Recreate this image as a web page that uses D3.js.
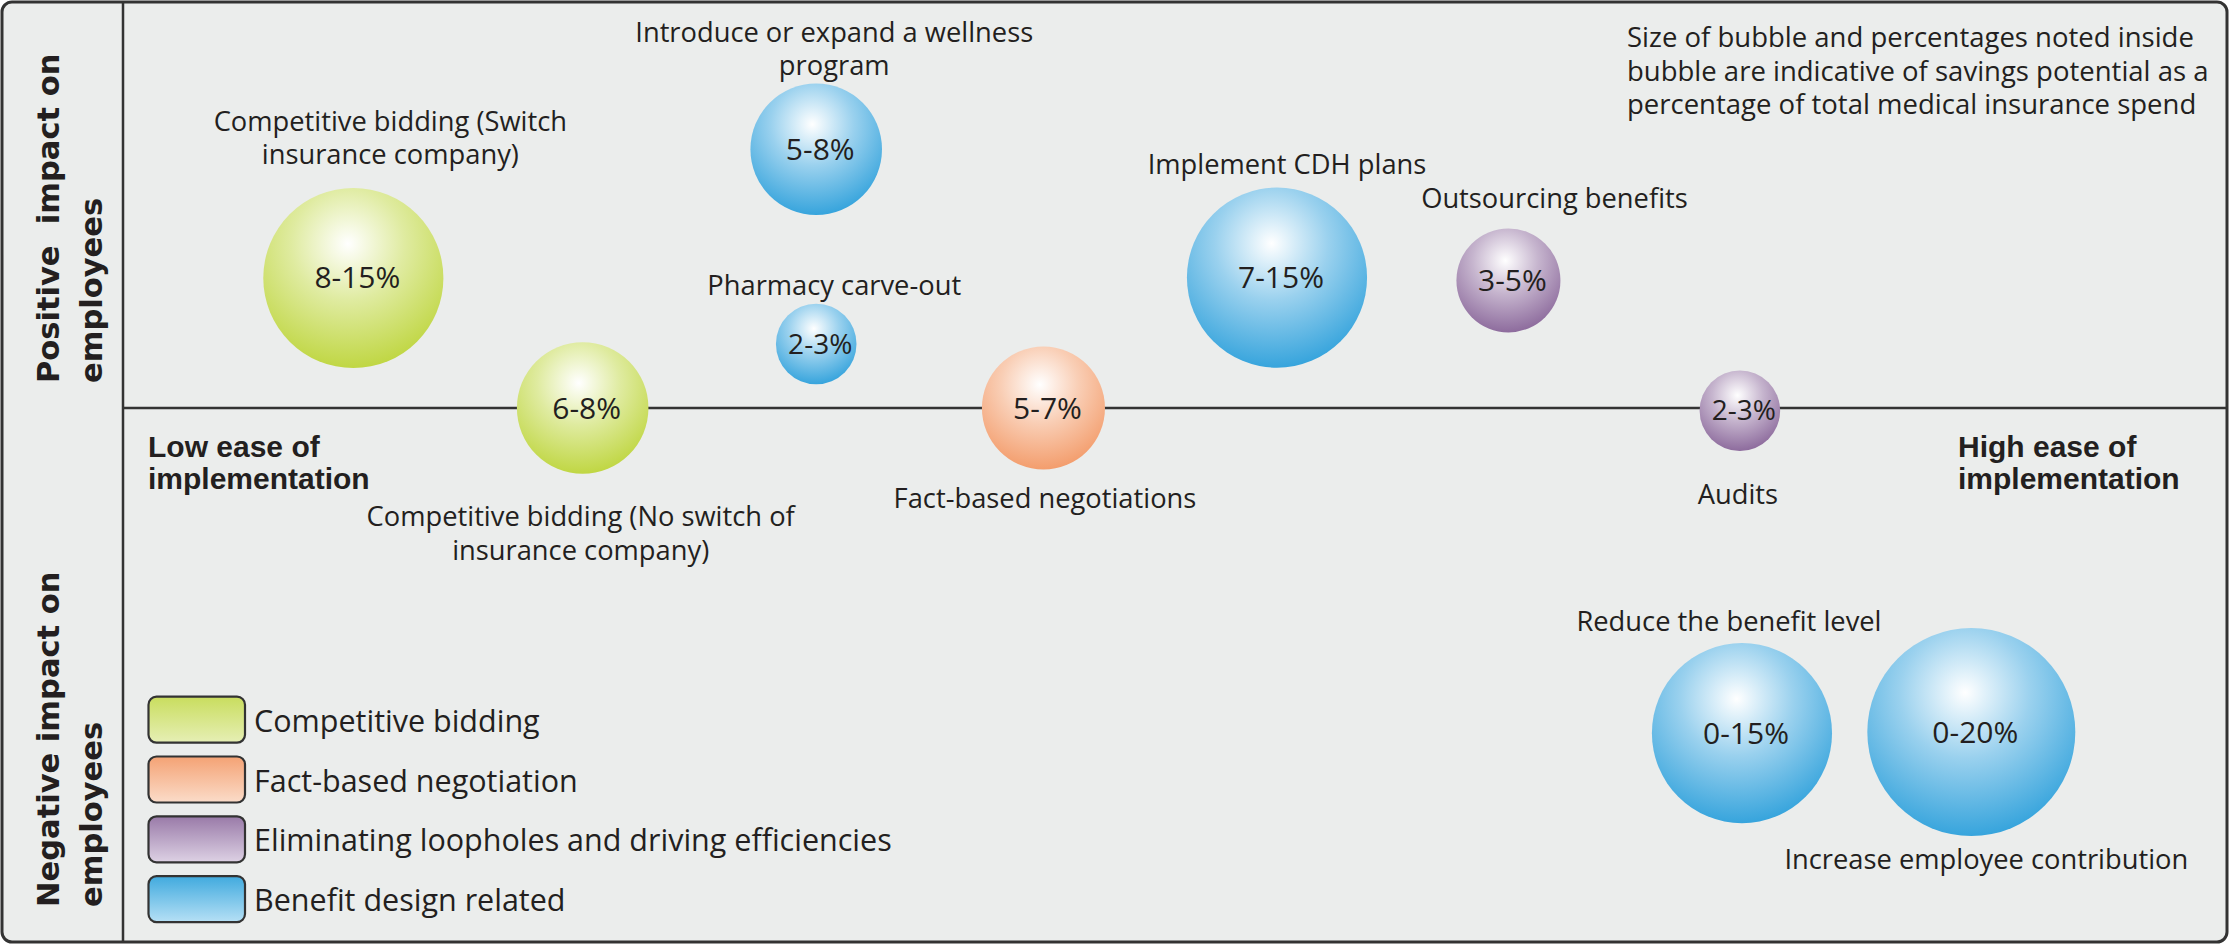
<!DOCTYPE html>
<html>
<head>
<meta charset="utf-8">
<script src="https://cdn.jsdelivr.net/npm/d3@7"></script>
<style>
  body { margin: 0; background: #ffffff; }
  text { font-family: "Open Sans", sans-serif; fill: #231f20; }
</style>
</head>
<body>
<div id="chart"></div>
<script>
// initiatives, in drawing order
const initiativeLabels = [
  "Competitive bidding (Switch\ninsurance company)",
  "Competitive bidding (No switch of\ninsurance company)",
  "Introduce or expand a wellness\nprogram",
  "Pharmacy carve-out",
  "Fact-based negotiations",
  "Implement CDH plans",
  "Outsourcing benefits",
  "Audits",
  "Reduce the benefit level",
  "Increase employee contribution"
];
const initiativeCategory = [0, 0, 3, 3, 1, 3, 2, 2, 3, 3];
// ease of implementation 0 (low) .. 100 (high)
const ease = [10.9, 21.8, 32.9, 32.9, 43.7, 54.8, 65.8, 76.8, 76.9, 87.8];
// impact on employees -100 (negative) .. 100 (positive)
const impact = [32.1, 0, 63.9, 15.8, 0, 32.2, 31.5, -0.5, -61, -60.8];
// savings potential, % of total medical insurance spend
const savingsLow = [8, 6, 5, 2, 5, 7, 3, 2, 0, 0];
const savingsHigh = [15, 8, 8, 3, 7, 15, 5, 3, 15, 20];

const categories = [
  "Competitive bidding",
  "Fact-based negotiation",
  "Eliminating loopholes and driving efficiencies",
  "Benefit design related"
];
const categoryColors = ["#bfd641", "#f39c6b", "#8c6a9c", "#34a3dc"];
const legendTop = ["#c9dd5e", "#f4a274", "#997aa8", "#40aade"];
const legendBottom = ["#e6efb5", "#fbdcc9", "#ddd1e4", "#b6e0f5"];

const noteLines = [
  "Size of bubble and percentages noted inside",
  "bubble are indicative of savings potential as a",
  "percentage of total medical insurance spend"
];

const width = 2232, height = 944;
const frame = {x: 2, y: 2, w: 2225, h: 940};
const divX = 123, midY = 408;

const svg = d3.select("#chart").append("svg")
  .attr("width", width)
  .attr("height", height);

const defs = svg.append("defs");
categoryColors.forEach((c, i) => {
  const rg = defs.append("radialGradient")
    .attr("id", "bub" + i)
    .attr("cx", 0.47).attr("cy", 0.31)
    .attr("fx", 0.47).attr("fy", 0.31)
    .attr("r", 0.7);
  rg.append("stop").attr("offset", 0).attr("stop-color", "#ffffff");
  rg.append("stop").attr("offset", 0.45).attr("stop-color", d3.interpolateRgb("#ffffff", c)(0.5));
  rg.append("stop").attr("offset", 1).attr("stop-color", c);

  const lg = defs.append("linearGradient")
    .attr("id", "leg" + i)
    .attr("x1", 0).attr("y1", 0).attr("x2", 0).attr("y2", 1);
  lg.append("stop").attr("offset", 0).attr("stop-color", legendTop[i]);
  lg.append("stop").attr("offset", 1).attr("stop-color", legendBottom[i]);
});

// frame
svg.append("rect")
  .attr("x", frame.x).attr("y", frame.y)
  .attr("width", frame.w).attr("height", frame.h)
  .attr("rx", 10)
  .attr("fill", "#ebedec")
  .attr("stroke", "#333333")
  .attr("stroke-width", 3);

svg.append("line")
  .attr("x1", divX).attr("x2", divX)
  .attr("y1", frame.y).attr("y2", frame.y + frame.h)
  .attr("stroke", "#333333").attr("stroke-width", 2.5);

const x = d3.scaleLinear().domain([0, 100]).range([124, 2228]);
const y = d3.scaleLinear().domain([-100, 0, 100]).range([941, midY, 3]);
const r = d3.scaleSqrt().domain([0, 20]).range([0, 104]);

svg.append("line")
  .attr("x1", divX).attr("x2", frame.x + frame.w)
  .attr("y1", y(0)).attr("y2", y(0))
  .attr("stroke", "#333333").attr("stroke-width", 2.5);

// side labels
const side = [
  {lines: ["Positive  impact on", "employees"], y: 383},
  {lines: ["Negative impact on", "employees"], y: 907}
];
side.forEach(s => {
  s.lines.forEach((t, j) => {
    svg.append("text")
      .attr("transform", `translate(${59 + j * 43},${s.y}) rotate(-90)`)
      .style("font-family", "'DejaVu Sans', sans-serif")
      .style("font-weight", "bold")
      .style("font-size", "30.5px")
      .style("white-space", "pre")
      .text(t);
  });
});

// ease labels
[["Low ease of", "implementation", 148], ["High ease of", "implementation", 1958]].forEach(e => {
  [e[0], e[1]].forEach((t, j) => {
    svg.append("text")
      .attr("x", e[2]).attr("y", 457 + j * 32)
      .style("font-family", "'Liberation Sans', Arial, sans-serif")
      .style("font-weight", "bold")
      .style("font-size", "30px")
      .text(t);
  });
});

// bubbles
const data = ease.map((e, i) => ({
  i, e, imp: impact[i], lo: savingsLow[i], hi: savingsHigh[i], cat: initiativeCategory[i]
}));

const bubbles = svg.append("g").selectAll("g")
  .data(data)
  .enter()
  .append("g")
  .attr("transform", d => `translate(${x(d.e)},${y(d.imp)})`);

bubbles.append("circle")
  .attr("r", d => r(d.hi))
  .attr("fill", d => `url(#bub${d.cat})`);

bubbles.append("text")
  .attr("x", 4)
  .attr("dy", "0.35em")
  .attr("text-anchor", "middle")
  .style("font-size", d => (r(d.hi) < 50 ? 28 : 30) + "px")
  .text(d => `${d.lo}-${d.hi}%`);

// initiative labels, offset from bubble centre (first baseline)
const labelOffsets = [
  [37, -147], [-2, 118], [18, -107.6], [18, -49], [1.5, 100],
  [10, -104], [46, -72.5], [-2, 93.5], [-13, -102], [15, 137]
];
bubbles.each(function(d) {
  const g = d3.select(this);
  const off = labelOffsets[d.i];
  const t = g.append("text")
    .attr("text-anchor", "middle")
    .style("font-size", "27.3px");
  initiativeLabels[d.i].split("\n").forEach((line, j) => {
    t.append("tspan")
      .attr("x", off[0])
      .attr("y", off[1] + j * 33.5)
      .text(line);
  });
});

// note
const note = svg.append("text").style("font-size", "27.5px");
noteLines.forEach((l, j) => {
  note.append("tspan").attr("x", 1627).attr("y", 47.3 + j * 33.5).text(l);
});

// legend
const legend = svg.append("g").selectAll("g")
  .data(categories)
  .enter()
  .append("g")
  .attr("transform", (d, i) => `translate(148.5,${696.7 + i * 59.8})`);

legend.append("rect")
  .attr("width", 96.5).attr("height", 46)
  .attr("rx", 8)
  .attr("fill", (d, i) => `url(#leg${i})`)
  .attr("stroke", "#333333")
  .attr("stroke-width", 2.2);

legend.append("text")
  .attr("x", 105.5).attr("y", 35)
  .style("font-size", "30.5px")
  .text(d => d);
</script>
</body>
</html>
